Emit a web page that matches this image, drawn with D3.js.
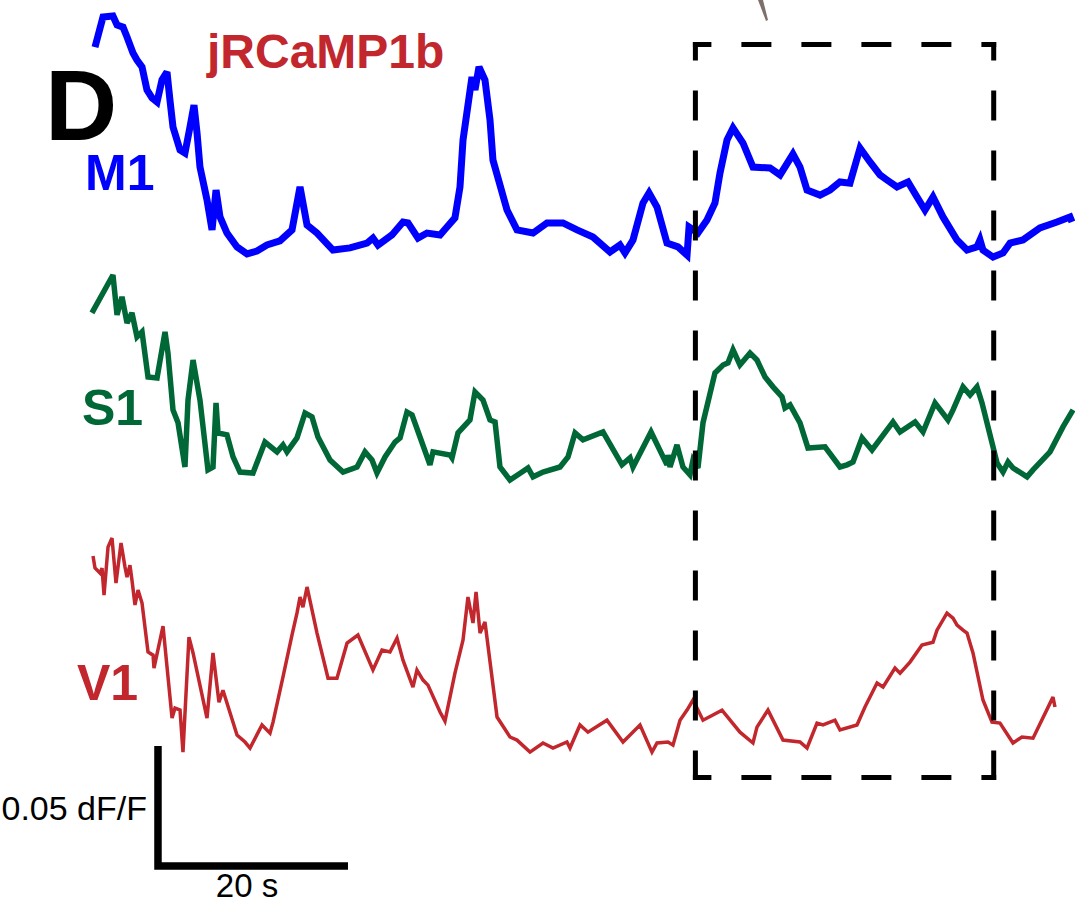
<!DOCTYPE html>
<html>
<head>
<meta charset="utf-8">
<script src="https://cdn.jsdelivr.net/npm/d3@7"></script>
<style>
    body { margin: 0; background: #fff; }
    svg { display: block; }
    text { font-family: "Liberation Sans", Arial, sans-serif; }
</style>
</head>
<body>
<div id="chart"></div>
<script>
//  === Data (time in s, dF/F in %) ===
var regions = ["M1", "S1", "V1"];
var regionColors = ["#0000ff", "#006837", "#c1272d"];

var m1Time = [0, 0.84, 1.89, 2.32, 2.95, 3.37, 4.0, 4.42, 4.95, 5.47, 6.0, 6.53, 7.05, 7.58, 7.89, 8.21, 8.95, 9.47, 10.0, 10.42,
    10.74, 11.05, 11.79, 12.32, 12.74, 13.16, 13.89, 14.95, 16.0, 17.05, 18.1, 19.47, 20.74, 21.58, 22.32, 23.37, 25.05, 26.84, 28.63, 29.26,
    29.79, 31.26, 32.42, 32.95, 34.0, 34.95, 36.32, 37.05, 37.89, 38.42, 38.74, 39.68, 40.0, 40.42, 41.05, 41.58, 41.89, 43.37, 44.42, 46.11,
    47.58, 49.26, 50.74, 52.42, 54.21, 55.26, 55.79, 56.63, 57.68, 58.32, 59.16, 60.21, 61.37, 62.32, 62.53, 63.47, 64.42, 65.26, 65.79, 66.53,
    67.16, 68.21, 69.26, 71.05, 72.11, 73.47, 74.21, 74.95, 76.32, 77.37, 78.42, 79.47, 80.53, 81.58, 82.63, 83.37, 84.42, 85.58, 86.53, 87.37,
    88.21, 89.26, 90.74, 91.79, 92.84, 93.16, 93.47, 94.53, 95.58, 96.32, 97.68, 99.47, 101.26, 102.63, 102.84];
var m1Value = [8.75, 10.0, 10.04, 9.67, 9.58, 9.17, 8.5, 8.21, 7.92, 6.96, 6.63, 6.46, 7.38, 7.71, 6.54, 5.42, 4.46, 4.33, 5.42, 6.33,
    5.17, 3.75, 2.38, 1.13, 2.79, 1.67, 1.0, 0.42, 0.13, 0.25, 0.5, 0.67, 1.13, 2.92, 1.33, 1.0, 0.29, 0.38, 0.58, 0.79,
    0.5, 0.92, 1.46, 1.42, 0.79, 1.0, 0.92, 1.25, 1.63, 2.92, 4.88, 7.5, 6.96, 7.92, 7.38, 5.71, 4.04, 1.96, 1.13, 1.0,
    1.42, 1.42, 1.13, 0.83, 0.21, 0.5, 0.17, 0.71, 2.25, 2.67, 2.08, 0.58, 0.42, 0.08, 1.25, 1.0, 1.54, 2.25, 3.5, 4.88,
    5.38, 4.75, 3.75, 3.71, 3.42, 4.29, 3.75, 2.79, 2.58, 2.79, 3.13, 3.08, 4.54, 3.96, 3.42, 3.21, 2.92, 3.13, 2.5, 1.96,
    2.5, 1.67, 0.71, 0.29, 0.42, 0.71, 0.29, 0, 0.17, 0.58, 0.71, 1.21, 1.46, 1.67, 1.46];

var s1Time = [-0.32, 1.89, 2.32, 2.84, 3.37, 3.89, 4.42, 4.95, 5.58, 6.53, 7.37, 7.68, 8.21, 8.74, 9.47, 9.79, 10.32, 11.05, 11.89, 12.42,
    12.74, 12.95, 13.89, 14.53, 15.26, 16.63, 17.89, 19.16, 19.79, 20.21, 21.26, 22.11, 22.84, 23.47, 24.74, 26.11, 27.58, 28.42, 29.16, 29.68,
    30.53, 31.58, 32.11, 32.84, 33.37, 34.21, 35.26, 35.58, 37.37, 37.58, 38.21, 39.47, 40.0, 40.84, 41.58, 42.11, 42.63, 43.68, 44.95, 45.58,
    46.11, 47.16, 48.95, 49.79, 50.53, 51.37, 53.47, 55.47, 56.32, 56.63, 58.53, 60.21, 60.32, 60.53, 61.26, 61.89, 62.63, 62.95, 63.47, 64.0,
    65.26, 66.11, 66.63, 67.16, 67.89, 68.95, 69.68, 70.53, 71.37, 72.32, 72.63, 73.16, 74.21, 75.05, 76.84, 78.42, 79.16, 79.79, 80.74, 81.79,
    84.0, 84.74, 86.32, 87.16, 88.42, 89.79, 90.32, 91.37, 92.11, 92.84, 93.37, 94.95, 95.58, 96.11, 96.63, 98.11, 98.74, 100.53, 101.89, 102.95];
var s1Value = [6.96, 8.54, 6.88, 7.63, 6.54, 6.96, 5.96, 6.17, 4.29, 4.25, 6.17, 5.29, 2.92, 2.38, 0.54, 3.33, 5.0, 3.33, 0.42, 0.54,
    3.21, 1.96, 1.88, 0.96, 0.33, 0.29, 1.58, 1.17, 1.46, 1.17, 1.75, 2.79, 2.63, 1.79, 0.83, 0.33, 0.54, 1.17, 0.83, 0.29,
    0.96, 1.58, 1.75, 2.83, 2.71, 1.79, 0.63, 1.17, 1.04, 0.92, 1.96, 2.5, 3.67, 3.33, 2.5, 2.42, 0.54, 0, 0.33, 0.5,
    0.13, 0.33, 0.54, 0.96, 1.96, 1.67, 2.0, 0.63, 0.92, 0.54, 2.0, 0.63, 1.04, 0.54, 1.46, 0.54, 0.21, 0.83, 0.5, 2.38,
    4.46, 4.79, 4.88, 5.42, 4.79, 5.29, 5.0, 4.29, 3.88, 3.46, 3.0, 3.13, 2.38, 1.33, 1.38, 0.54, 0.63, 0.75, 1.75, 1.25,
    2.42, 2.0, 2.42, 2.0, 3.21, 2.5, 2.92, 3.88, 3.54, 3.88, 3.21, 0.71, 0.33, 0.75, 0.5, 0.13, 0.42, 1.17, 2.21, 2.92];

var v1Time = [-0.21, 0, 0.53, 0.74, 0.95, 1.37, 1.79, 2.21, 2.74, 3.16, 3.37, 3.68, 3.89, 4.21, 4.53, 4.95, 5.58, 6.11, 6.21, 7.16,
    8.11, 8.42, 8.95, 9.26, 9.89, 10.32, 11.79, 12.42, 13.05, 13.47, 14.95, 15.79, 16.32, 17.58, 18.42, 18.74, 19.79, 20.74, 21.26, 21.58,
    21.89, 22.32, 23.37, 24.53, 25.47, 26.53, 27.68, 29.26, 30.21, 31.05, 31.79, 32.42, 33.47, 33.89, 34.53, 35.05, 36.32, 36.84, 37.89, 38.74,
    39.26, 39.79, 40.11, 40.53, 41.05, 42.32, 43.68, 44.42, 45.79, 47.16, 48.21, 49.68, 50.0, 51.05, 51.89, 53.89, 55.58, 57.37, 58.63, 59.16,
    60.32, 60.84, 61.58, 62.32, 62.95, 64.0, 66.0, 67.89, 69.26, 69.68, 70.84, 72.42, 74.21, 74.95, 76.0, 76.63, 77.89, 78.42, 80.21, 81.05,
    82.32, 82.95, 84.21, 84.74, 85.79, 87.05, 88.21, 88.63, 89.68, 90.32, 90.74, 91.37, 91.79, 92.42, 93.47, 94.42, 95.26, 96.63, 97.58, 98.74,
    100.84, 101.05];
var v1Value = [8.17, 7.67, 7.46, 7.67, 6.54, 8.54, 8.92, 7.04, 8.71, 7.71, 7.29, 7.79, 7.17, 6.13, 6.75, 6.21, 4.17, 4.04, 3.5, 5.25,
    1.42, 1.83, 1.75, 0, 4.79, 4.13, 1.42, 4.13, 2.08, 2.58, 0.71, 0.42, 0.17, 1.13, 0.79, 1.25, 3.13, 4.88, 5.79, 6.46,
    6.04, 6.88, 4.96, 3.08, 3.08, 4.54, 4.88, 3.42, 4.25, 4.17, 4.75, 3.83, 2.71, 3.42, 3.0, 2.79, 1.67, 1.29, 3.29, 4.67,
    6.46, 5.38, 6.67, 4.96, 5.42, 1.46, 0.63, 0.5, 0, 0.38, 0.17, 0.42, 0.17, 1.13, 0.83, 1.33, 0.42, 1.13, 0, 0.38,
    0.42, 0.29, 1.33, 1.75, 2.17, 1.33, 1.75, 0.83, 0.38, 1.04, 1.75, 0.5, 0.42, 0.17, 1.21, 1.13, 1.33, 0.92, 1.13, 1.88,
    2.88, 2.71, 3.5, 3.29, 3.75, 4.46, 4.58, 5.08, 5.79, 5.58, 5.29, 5.08, 4.96, 4.13, 2.17, 1.25, 1.21, 0.38, 0.63, 0.58,
    2.29, 1.88];

var traceTimes = [m1Time, s1Time, v1Time];
var traceValues = [m1Value, s1Value, v1Value];

// scale bar and highlighted window (s)
var barTime = 20, barValue = 5;
var windowStart = 63.2, windowEnd = 94.6;
// /Data

//  === Layout ===
var width = 1075, height = 904;
var traceOffset = [26.96, 17.67, 6.33];   // baseline of each trace, in %
var traceWidth = [7, 5.5, 3.5];
var labelPos = [[85, 190], [82, 425], [77, 700]];

var svg = d3.select("#chart").append("svg")
    .attr("width", width)
    .attr("height", height);

var x = d3.scaleLinear().domain([0, 103]).range([95, 1073.5]);
var y = d3.scaleLinear().domain([0, 37.67]).range([height, 0]);
// /Layout

//  === Traces ===
regions.forEach(function (name, i) {
    var pts = d3.zip(traceTimes[i], traceValues[i]);
    var line = d3.line()
        .x(function (d) { return x(d[0]); })
        .y(function (d) { return y(d[1] + traceOffset[i]); });

    svg.append("path")
        .datum(pts)
        .attr("d", line)
        .attr("fill", "none")
        .attr("stroke", regionColors[i])
        .attr("stroke-width", traceWidth[i])
        .attr("stroke-linejoin", "miter")
        .attr("stroke-miterlimit", 3);

    svg.append("text")
        .attr("x", labelPos[i][0])
        .attr("y", labelPos[i][1])
        .attr("font-size", 50)
        .attr("font-weight", "bold")
        .attr("fill", regionColors[i])
        .text(name);
});
// /Traces

//  === Dashed window ===
var boxTop = 44.5, boxBottom = 777.5;
var boxEdges = [
    [x(windowStart), boxTop, x(windowEnd), boxTop],
    [x(windowStart), boxBottom, x(windowEnd), boxBottom],
    [x(windowStart), boxTop, x(windowStart), boxBottom],
    [x(windowEnd), boxTop, x(windowEnd), boxBottom]
];
svg.selectAll(".edge")
    .data(boxEdges)
    .enter()
    .append("line")
    .attr("class", "edge")
    .attr("x1", function (d) { return d[0]; })
    .attr("y1", function (d) { return d[1]; })
    .attr("x2", function (d) { return d[2]; })
    .attr("y2", function (d) { return d[3]; })
    .attr("stroke", "#000")
    .attr("stroke-width", 5)
    .attr("stroke-linecap", "square")
    .attr("stroke-dasharray", "25,35")
    .attr("stroke-dashoffset", 11.5);
// /Dashed window

//  === Scale bar ===
var barT0 = 6.63;
var barY0 = 866;
svg.append("path")
    .attr("d", "M" + x(barT0) + "," + (barY0 - (y(0) - y(barValue))) +
        " L" + x(barT0) + "," + barY0 +
        " L" + x(barT0 + barTime) + "," + barY0)
    .attr("fill", "none")
    .attr("stroke", "#000")
    .attr("stroke-width", 7.5);

svg.append("text")
    .attr("x", 147)
    .attr("y", 820)
    .attr("text-anchor", "end")
    .attr("font-size", 34)
    .text("0.05 dF/F");

svg.append("text")
    .attr("x", x(barT0 + barTime / 2) - 6)
    .attr("y", 897)
    .attr("text-anchor", "middle")
    .attr("font-size", 33)
    .text(barTime + " s");
// /Scale bar

//  === Panel titles ===
svg.append("text")
    .attr("x", 45)
    .attr("y", 140)
    .attr("font-size", 100)
    .attr("font-weight", "bold")
    .text("D");

svg.append("text")
    .attr("x", 207)
    .attr("y", 68)
    .attr("font-size", 48)
    .attr("font-weight", "bold")
    .attr("fill", "#c1272d")
    .text("jRCaMP1b");

// small piece of the neighbouring panel at the top edge
svg.append("path")
    .attr("d", "M758,0 L763,0 L768,20 L766,21 Z")
    .attr("fill", "#7d706b");
// /Panel titles
</script>
</body>
</html>
